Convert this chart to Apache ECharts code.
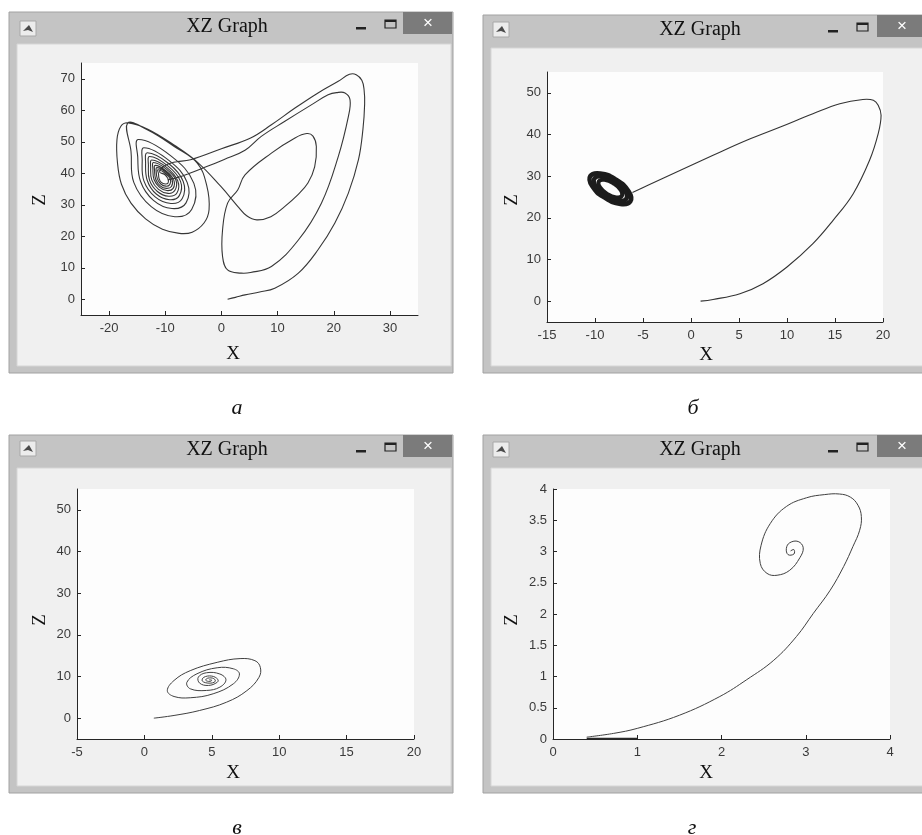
<!DOCTYPE html>
<html>
<head>
<meta charset="utf-8">
<title>XZ Graph</title>
<script src="https://cdn.jsdelivr.net/npm/echarts@6/dist/echarts.min.js"></script>
<style>
html, body { margin: 0; padding: 0; background: #ffffff; }
#chart { width: 922px; height: 835px; }
</style>
</head>
<body>
<div id="chart"></div>
<script>
var captions = ['а', 'б', 'в', 'г'];
var windowTitle = 'XZ Graph';

// а : start, big right arc, back into the left wing
var aArc = [[1.1,0],[2.5,0.6],[4.2,1.4],[6.8,2.3],[9.5,3.5],[13.7,8.3],[17.2,15.7],[20.2,24.2],[22.6,33.7],[24.4,44.3],
  [25.2,54],[25.5,62],[25.4,66.5],[25,69.5],[24,71.3],[22.8,71.4],[20.8,69.2],[17.2,65.5],[13.1,60.7],[8.9,55.4],
  [5.2,51.2],[0,47.8],[-5.5,44.3],[-8.5,43.5],[-10.2,42.3]];
// а : left wing spiral, inner turns to outer turns
var aSpiral = [
  [-11.0,40.4],[-10.1,39.6],[-9.5,38.2],[-9.5,36.9],[-10.0,36.6],[-10.7,37.1],[-11.1,38.3],[-11.2,39.8],
  [-11.3,41.1],[-10.0,40.0],[-9.1,38.1],[-9.2,36.4],[-9.9,35.9],[-10.8,36.6],[-11.4,38.2],[-11.6,40.3],
  [-11.5,41.8],[-9.9,40.4],[-8.8,38.0],[-8.9,35.8],[-9.8,35.2],[-10.9,36.0],[-11.7,38.1],[-11.9,40.8],
  [-11.8,42.5],[-9.9,40.8],[-8.5,37.9],[-8.6,35.2],[-9.7,34.5],[-11.0,35.5],[-12.0,38.0],[-12.2,41.3],
  [-12.1,43.4],[-9.8,41.3],[-8.1,37.8],[-8.3,34.5],[-9.5,33.6],[-11.2,34.9],[-12.4,37.9],[-12.6,41.9],
  [-12.4,44.2],[-9.7,41.8],[-7.8,37.7],[-7.9,33.8],[-9.4,32.7],[-11.4,34.2],[-12.8,37.8],[-13.0,42.5],
  [-12.8,45.3],[-9.6,42.4],[-7.3,37.5],[-7.5,32.9],[-9.2,31.6],[-11.6,33.4],[-13.2,37.7],[-13.5,43.2],
  [-13.2,46.5],[-9.4,43.1],[-6.8,37.4],[-7.0,31.9],[-9.0,30.4],[-11.8,32.5],[-13.8,37.6],[-14.1,44.1],
  [-13.8,48.1],[-9.3,44.0],[-6.1,37.1],[-6.3,30.6],[-8.8,28.8],[-12.1,31.4],[-14.4,37.4],[-14.9,45.2],
  [-14.8,50.7],[-9.0,45.5],[-4.9,36.8],[-5.3,28.5],[-8.3,26.2],[-12.5,29.4],[-15.6,37.1],[-16.1,47.0]];
// а : outermost left turn and the jump to the right wing
var aOuter = [[-16.7,55.9],[-13.2,53.8],[-8.4,48.5],[-4.3,43.2],[-2.6,36],[-2.2,28.4],[-3.1,24.2],[-5.2,21.3],
  [-7.5,20.9],[-10.5,22.2],[-13.5,25.5],[-16.1,30.5],[-17.8,36.5],[-18.5,43.2],[-18.6,50.6],[-17.9,54.9],
  [-16.6,56.0],[-13.1,54.0],[-8.3,48.8],[-4.2,43.4],[-0.1,35.8],[2.9,29.5],[4.5,26.5],[6.3,25.2]];
// а : small right loop, middle loop, return to the left wing
var aRight = [[8.8,26.2],[11.3,29.5],[13.5,33],[15.4,36.9],[16.6,42],[16.9,48.5],[16.3,51.8],[15.2,52.6],[13.1,51.2],
  [8.9,46.4],[4.2,39.5],[2.9,34.7],[1.1,30.5],[0.2,22],[0.2,13.6],[1.1,9.3],[3.5,8.3],[5.2,8.5],[8.9,10.4],
  [13.7,18.8],[17.8,30.5],[20.8,45.3],[22.6,58],[22.9,63.3],[22,65.5],[20.5,65.6],[19.0,64.9],[16,61.7],
  [11.3,56.5],[7.1,51.7],[4.2,47.3],[0.5,44.4],[-2.5,42.2],[-7.2,39],[-9.6,37.9]];

// б : long arc into the dense ring
var bPath = [[1.0,0],[2.3,0.4],[5.1,1.8],[7.5,4.2],[10.0,8.2],[12.7,13.8],[14.8,19.4],[16.9,25.8],[18.6,33.8],
  [19.5,40.2],[19.8,44.6],[19.5,47.0],[19.0,48.2],[17.9,48.4],[15.5,47.4],[12.7,45.0],[9.3,41.8],[5.8,38.6],
  [2.3,35.0],[-1.1,31.4],[-4.6,27.7],[-6.1,26.1]];
var bRingOuter = [[-6.31,23.97],[-7.34,23.34],[-8.99,24.84],[-10.3,27.61],[-10.49,30.03],[-9.46,30.66],[-7.81,29.16],[-6.5,26.39]];
var bRingMid = [[-6.73,24.58],[-7.55,24.07],[-8.87,25.27],[-9.92,27.49],[-10.07,29.42],[-9.25,29.93],[-7.93,28.73],[-6.88,26.51]];
var bRingInner = [[-7.2,25.26],[-7.79,24.89],[-8.74,25.75],[-9.49,27.35],[-9.6,28.74],[-9.01,29.11],[-8.06,28.25],[-7.31,26.65]];

// в : decaying spiral
var cPath = [[0.7,0],[2.2,0.65],[4.1,1.85],[6.1,3.84],[7.6,6.6],[8.5,9.8],[8.6,12.2],[8.2,13.8],[7.1,14.3],
  [5.4,13.4],[3.4,11.4],[2.2,9.05],[1.7,6.6],[2.2,5.2],[3.4,4.9],[5.1,5.85],[6.6,8.25],[7.05,10.6],[6.6,11.85],
  [5.4,12.1],[3.9,10.65],[3.15,8.6],[3.4,7.05],[4.6,6.65],[5.6,7.45],[6.05,9.2],[5.6,10.6],[4.6,10.9],[4.0,9.85],
  [4.1,8.4],[4.75,7.85],[5.4,8.6],[5.45,9.3],[5.0,10.1],[4.4,9.8],[4.3,8.9],[4.8,8.4],[5.25,8.8],[5.15,9.5],
  [4.7,9.6],[4.55,9.1],[4.85,8.8],[5.0,9.1],[4.8,9.2]];

// г : short run along the axis, then the arc and spiral
var dStart = [[1.0,0.005],[0.4,0.005]];
var dPath = [[0.4,0.03],[0.72,0.09],[1.0,0.17],[1.5,0.38],[1.98,0.68],[2.3,0.95],[2.62,1.26],[2.89,1.64],
  [3.09,2.01],[3.29,2.38],[3.45,2.76],[3.56,3.08],[3.64,3.34],[3.66,3.56],[3.62,3.74],[3.53,3.87],[3.4,3.92],
  [3.22,3.91],[3.01,3.86],[2.77,3.72],[2.58,3.45],[2.47,3.1],[2.46,2.81],[2.54,2.65],[2.66,2.62],[2.81,2.7],
  [2.93,2.9],[2.97,3.06],[2.91,3.16],[2.81,3.14],[2.77,3.05],[2.79,2.95],[2.86,2.96],[2.86,3.03],[2.82,3.01]];

// axis ticks where the range does not start on a tick
var aXTicks = [-20, -10, 0, 10, 20, 30];
var aZTicks = [0, 10, 20, 30, 40, 50, 60, 70];
var bZTicks = [0, 10, 20, 30, 40, 50];
var cZTicks = [0, 10, 20, 30, 40, 50];

var chart = echarts.init(document.getElementById('chart'));

var tickFont = 'Liberation Sans, Arial, sans-serif';
var serif = 'Liberation Serif, Times New Roman, serif';

function xAx(gi, min, max, interval, custom) {
  var ax = {
    gridIndex: gi, type: 'value', min: min, max: max,
    axisLine: { show: true, onZero: false, lineStyle: { color: '#262626', width: 1 } },
    axisTick: { show: true, inside: true, length: 4, lineStyle: { color: '#262626' } },
    axisLabel: { color: '#3a3a3a', fontSize: 13, fontFamily: tickFont, margin: 7 },
    splitLine: { show: false }
  };
  if (custom) {
    ax.axisTick.customValues = custom;
    ax.axisLabel.customValues = custom;
  } else {
    ax.interval = interval;
  }
  return ax;
}
function yAx(gi, min, max, interval, custom) {
  var ax = xAx(gi, min, max, interval, custom);
  ax.axisLabel.margin = 6;
  return ax;
}

// window frame drawn behind each plot
function windowFrame(o) {
  var els = [];
  els.push({ type: 'rect', z: -10, shape: { x: o.x, y: o.y, width: o.w, height: o.h },
    style: { fill: '#c4c4c4', stroke: '#a2a2a2', lineWidth: 1 } });
  els.push({ type: 'rect', z: -9, shape: { x: o.cx, y: o.cy, width: o.cw, height: o.ch },
    style: { fill: '#f0f0f0', stroke: '#d6d6d6', lineWidth: 1 } });
  // icon
  els.push({ type: 'rect', z: -8, shape: { x: o.ix, y: o.iy, width: 16, height: 15 },
    style: { fill: '#ececec', stroke: '#a8a8a8', lineWidth: 1 } });
  els.push({ type: 'polygon', z: -7, shape: { points: [[o.ix + 3, o.iy + 10], [o.ix + 9, o.iy + 4], [o.ix + 13, o.iy + 11], [o.ix + 8, o.iy + 9]] },
    style: { fill: '#4a4a4a' } });
  // title
  els.push({ type: 'text', z: 5, x: o.tx, y: o.ty,
    style: { text: windowTitle, font: '20px ' + serif, fill: '#111111', textAlign: 'center', textVerticalAlign: 'middle' } });
  // minimise / maximise
  els.push({ type: 'rect', z: -7, shape: { x: o.mx - 5, y: o.ty, width: 10, height: 2.5 }, style: { fill: '#222222' } });
  els.push({ type: 'rect', z: -7, shape: { x: o.bx, y: o.ty - 7, width: 11, height: 8 },
    style: { fill: 'none', stroke: '#222222', lineWidth: 1.2 } });
  els.push({ type: 'rect', z: -7, shape: { x: o.bx, y: o.ty - 7, width: 11, height: 2 }, style: { fill: '#222222' } });
  // close
  els.push({ type: 'rect', z: -7, shape: { x: o.clx, y: o.cly, width: o.clw, height: 22 }, style: { fill: '#7b7b7b' } });
  els.push({ type: 'text', z: 5, x: o.clx + 25, y: o.cly + 11,
    style: { text: '×', font: '17px ' + tickFont, fill: '#ffffff', textAlign: 'center', textVerticalAlign: 'middle' } });
  // axis names
  els.push({ type: 'text', z: 5, x: o.xlx, y: o.xly,
    style: { text: 'X', font: '19px ' + serif, fill: '#111111', textAlign: 'center', textVerticalAlign: 'middle' } });
  els.push({ type: 'text', z: 5, x: o.zlx, y: o.zly, rotation: Math.PI / 2,
    style: { text: 'Z', font: '19px ' + serif, fill: '#111111', textAlign: 'center', textVerticalAlign: 'middle' } });
  // caption
  els.push({ type: 'text', z: 5, x: o.capx, y: o.capy,
    style: { text: o.cap, font: 'italic 22px ' + serif, fill: '#111111', textAlign: 'center', textVerticalAlign: 'middle' } });
  return els;
}

var graphics = []
  .concat(windowFrame({ x: 9, y: 12, w: 444, h: 361, cx: 17, cy: 44, cw: 434, ch: 322, ix: 20, iy: 21,
    tx: 227, ty: 27, mx: 361, bx: 385, clx: 403, cly: 12, clw: 49, xlx: 233, xly: 354, zlx: 40, zly: 200,
    capx: 237, capy: 408, cap: captions[0] }))
  .concat(windowFrame({ x: 483, y: 15, w: 450, h: 358, cx: 491, cy: 48, cw: 440, ch: 318, ix: 493, iy: 22,
    tx: 700, ty: 30, mx: 833, bx: 857, clx: 877, cly: 15, clw: 50, xlx: 706, xly: 355, zlx: 512, zly: 200,
    capx: 693, capy: 408, cap: captions[1] }))
  .concat(windowFrame({ x: 9, y: 435, w: 444, h: 358, cx: 17, cy: 468, cw: 434, ch: 318, ix: 20, iy: 441,
    tx: 227, ty: 450, mx: 361, bx: 385, clx: 403, cly: 435, clw: 49, xlx: 233, xly: 773, zlx: 40, zly: 620,
    capx: 237, capy: 828, cap: captions[2] }))
  .concat(windowFrame({ x: 483, y: 435, w: 450, h: 358, cx: 491, cy: 468, cw: 440, ch: 318, ix: 493, iy: 442,
    tx: 700, ty: 450, mx: 833, bx: 857, clx: 877, cly: 435, clw: 50, xlx: 706, xly: 773, zlx: 512, zly: 620,
    capx: 692, capy: 828, cap: captions[3] }));

// a trajectory: one smooth polyline through all points, positioned by the axes
function curveSeries(gi, pts, color, width, smooth, closed) {
  return {
    type: 'custom', coordinateSystem: 'cartesian2d', xAxisIndex: gi, yAxisIndex: gi,
    data: pts, encode: { x: 0, y: 1 }, silent: true, animation: false, clip: true,
    renderItem: function (params, api) {
      if (params.dataIndex !== 0) return null;
      var p = pts.map(function (d) { return api.coord(d); });
      return {
        type: closed ? 'polygon' : 'polyline',
        shape: { points: p, smooth: smooth },
        style: { stroke: color, lineWidth: width, fill: null, lineJoin: 'round' }
      };
    }
  };
}

var gridBox = { show: true, backgroundColor: '#fdfdfd', borderWidth: 0 };

var option = {
  animation: false,
  backgroundColor: '#ffffff',
  graphic: { elements: graphics },
  grid: [
    Object.assign({ left: 81, top: 63, width: 337, height: 252 }, gridBox),
    Object.assign({ left: 547, top: 72, width: 336, height: 250 }, gridBox),
    Object.assign({ left: 77, top: 489, width: 337, height: 250 }, gridBox),
    Object.assign({ left: 553, top: 489, width: 337, height: 250 }, gridBox)
  ],
  xAxis: [
    xAx(0, -25, 35, null, aXTicks),
    xAx(1, -15, 20, 5),
    xAx(2, -5, 20, 5),
    xAx(3, 0, 4, 1)
  ],
  yAxis: [
    yAx(0, -5, 75, null, aZTicks),
    yAx(1, -5, 55, null, bZTicks),
    yAx(2, -5, 55, null, cZTicks),
    yAx(3, 0, 4, 0.5)
  ],
  series: [
    curveSeries(0, aArc.concat(aSpiral, aOuter, aRight), '#363636', 1.1, 0.4, false),
    curveSeries(1, bPath, '#333333', 1.1, 0.4, false),
    curveSeries(1, bRingOuter, '#1c1c1c', 4.5, 0.5, true),
    curveSeries(1, bRingMid, '#1c1c1c', 4.5, 0.5, true),
    curveSeries(1, bRingInner, '#1c1c1c', 4, 0.5, true),
    curveSeries(2, cPath, '#404040', 1, 0.4, false),
    curveSeries(3, dStart, '#2a2a2a', 2, 0, false),
    curveSeries(3, dPath, '#404040', 1, 0.4, false)
  ]
};

chart.setOption(option);
</script>
</body>
</html>
